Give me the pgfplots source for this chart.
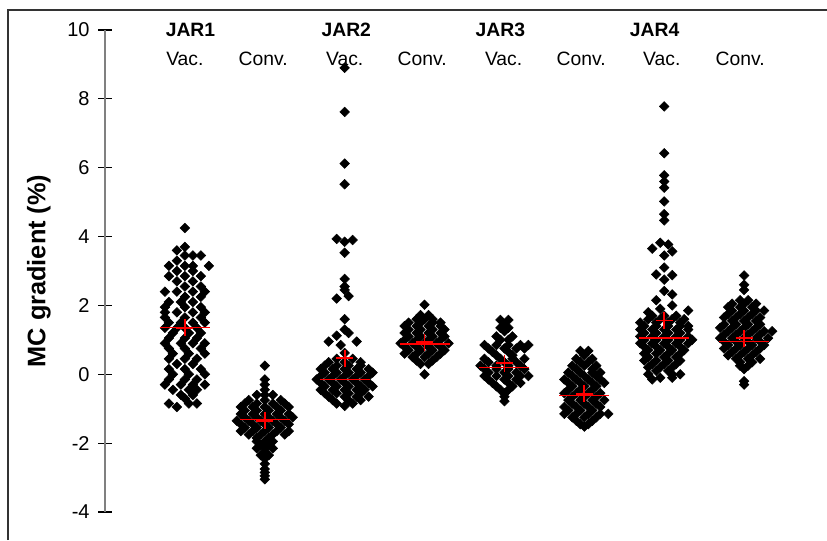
\documentclass[border=0pt]{standalone}
\usepackage{fontspec}
\setmainfont{Liberation Sans}
\usepackage{pgfplots}
\pgfplotsset{compat=1.18}
\begin{document}
\begin{tikzpicture}
\useasboundingbox (0,0) rectangle (620.25pt,405pt);
\draw[line width=1pt, color=black!80] (6pt,0) -- (6pt,397.5pt) -- (620.25pt,397.5pt);
\begin{axis}[
  at={(78.75pt,21pt)}, anchor=south west,
  scale only axis, width=539.25pt, height=361.5pt,
  xmin=0, xmax=9, ymin=-4, ymax=10,
  axis x line=none, axis y line*=left,
  y axis line style={draw=black!50, line width=1.2pt},
  ytick={-4,-2,...,10},
  tick align=center, major tick length=10pt,
  y tick style={black, line width=0.8pt},
  yticklabel style={font=\fontsize{15}{15}\selectfont, xshift=-3pt},
  /pgf/number format/assume math mode=true,
  ylabel={\textbf{MC gradient (\%)}},
  ylabel style={at={(axis description cs:-0.092,0.5)}, anchor=center, font=\fontsize{19}{19}\selectfont},
  clip=false,
]
\addplot[only marks, mark=square*, mark size=2.55pt, mark options={rotate=45, black, fill=black}] coordinates {
(1,4.25) (1,3.7) (0.9,3.6) (1,3.45) (1.1,3.45) (1.2,3.45) (0.9,3.3)
(0.8,3.15) (1,3.15) (1.1,3.15) (1.3,3.15) (0.9,3.0) (1.1,3.0)
(0.8,2.85) (1,2.85) (1.2,2.85) (0.9,2.7) (1.1,2.7) (1,2.55) (1.2,2.55)
(0.75,2.4) (0.9,2.4) (1.1,2.4) (1.25,2.4) (1,2.25) (1.2,2.25)
(0.8,2.1) (0.95,2.1) (1.1,2.1) (0.75,1.95) (1,1.95) (1.2,1.95)
(0.75,1.8) (0.9,1.8) (1.1,1.8) (1.25,1.8) (0.75,1.65) (1,1.65) (1.2,1.65)
(0.8,1.5) (0.95,1.5) (1.1,1.5) (1.25,1.5) (0.75,1.35) (0.9,1.35) (1,1.35) (1.15,1.35)
(0.85,1.2) (1.05,1.2) (1.2,1.2) (0.8,1.05) (1,1.05) (1.15,1.05)
(0.75,0.9) (0.95,0.9) (1.1,0.9) (1.25,0.9) (0.8,0.75) (1,0.75) (1.2,0.75)
(0.85,0.6) (1.05,0.6) (1.25,0.6) (0.8,0.45) (1,0.45) (1.15,0.45)
(0.9,0.3) (1.1,0.3) (0.8,0.15) (1,0.15) (1.2,0.15) (0.85,0) (1.05,0) (1.25,0)
(0.8,-0.15) (1,-0.15) (1.15,-0.15) (0.75,-0.3) (0.95,-0.3) (1.1,-0.3) (1.25,-0.3)
(0.85,-0.45) (1.05,-0.45) (1.15,-0.45) (0.95,-0.6) (1.1,-0.6) (1,-0.7)
(0.8,-0.85) (1.05,-0.85) (1.15,-0.85) (0.9,-0.95)
};
\addplot[only marks, mark=square*, mark size=2.55pt, mark options={rotate=45, black, fill=black}] coordinates {
(2,0.25) (2,-0.15) (2,-0.3) (2,-0.45) (1.9,-0.6) (2,-0.6) (2.1,-0.6)
(1.8,-0.75) (2,-0.75) (2.2,-0.75) (1.75,-0.85) (1.9,-0.85) (2.1,-0.85) (2.25,-0.85)
(1.7,-0.95) (1.85,-0.95) (2,-0.95) (2.15,-0.95) (2.3,-0.95)
(1.75,-1.05) (1.9,-1.05) (2.05,-1.05) (2.2,-1.05)
(1.7,-1.15) (1.85,-1.15) (2,-1.15) (2.15,-1.15) (2.3,-1.15)
(1.75,-1.25) (1.9,-1.25) (2.05,-1.25) (2.2,-1.25) (2.35,-1.25)
(1.65,-1.35) (1.8,-1.35) (1.95,-1.35) (2.1,-1.35) (2.25,-1.35)
(1.7,-1.45) (1.85,-1.45) (2,-1.45) (2.15,-1.45) (2.3,-1.45)
(1.75,-1.55) (1.9,-1.55) (2.05,-1.55) (2.2,-1.55)
(1.7,-1.65) (1.85,-1.65) (2,-1.65) (2.15,-1.65) (2.3,-1.65)
(1.8,-1.75) (1.95,-1.75) (2.1,-1.75) (2.25,-1.75) (1.9,-1.85) (2.05,-1.85)
(1.9,-1.95) (2,-1.95) (2.1,-1.95) (1.95,-2.05) (2.05,-2.05)
(1.9,-2.15) (2,-2.15) (2.1,-2.15) (2,-2.25) (1.95,-2.35) (2.05,-2.35) (2,-2.45)
(2,-2.6) (2,-2.75) (2,-2.85) (2,-2.95) (2,-3.05)
};
\addplot[only marks, mark=square*, mark size=2.55pt, mark options={rotate=45, black, fill=black}] coordinates {
(3,8.9) (3,7.62) (3,6.12) (3,5.52) (2.9,3.93) (3,3.85) (3.1,3.9) (3,3.53) (3,2.77)
(3,2.55) (3,2.45) (2.9,2.2) (3.05,2.27) (3,1.6) (3,1.3) (2.9,1.12) (3.05,1.2)
(2.8,0.95) (2.95,0.85) (3.15,0.95) (3,0.62)
(2.9,0.45) (3.1,0.45) (2.8,0.35) (3,0.35) (3.2,0.35)
(2.75,0.25) (2.9,0.25) (3.05,0.25) (3.2,0.25)
(2.7,0.15) (2.85,0.15) (3,0.15) (3.15,0.15) (3.3,0.15)
(2.75,0.05) (2.9,0.05) (3.05,0.05) (3.2,0.05) (3.35,0.05)
(2.7,-0.05) (2.85,-0.05) (3,-0.05) (3.15,-0.05) (3.3,-0.05)
(2.65,-0.15) (2.8,-0.15) (2.95,-0.15) (3.1,-0.15) (3.25,-0.15)
(2.7,-0.25) (2.85,-0.25) (3,-0.25) (3.15,-0.25) (3.3,-0.25)
(2.75,-0.35) (2.9,-0.35) (3.05,-0.35) (3.2,-0.35) (3.35,-0.35)
(2.7,-0.45) (2.85,-0.45) (3,-0.45) (3.15,-0.45) (3.25,-0.45)
(2.75,-0.55) (2.9,-0.55) (3.05,-0.55) (3.2,-0.55)
(2.8,-0.65) (3,-0.65) (3.15,-0.65) (3.3,-0.65)
(2.85,-0.75) (3.05,-0.75) (3.2,-0.75) (2.9,-0.85) (3.1,-0.85) (3,-0.92)
};
\addplot[only marks, mark=square*, mark size=2.55pt, mark options={rotate=45, black, fill=black}] coordinates {
(4,2.02) (3.95,1.72) (4.05,1.72) (3.9,1.6) (4,1.6) (4.1,1.6)
(3.8,1.5) (3.95,1.5) (4.1,1.5) (4.2,1.5) (3.75,1.4) (3.9,1.4) (4.05,1.4) (4.2,1.4)
(3.8,1.3) (3.95,1.3) (4.1,1.3) (4.25,1.3) (3.75,1.2) (3.9,1.2) (4.05,1.2) (4.2,1.2)
(3.8,1.1) (3.95,1.1) (4.1,1.1) (4.25,1.1) (3.75,1.0) (3.9,1.0) (4.05,1.0) (4.2,1.0)
(3.7,0.9) (3.85,0.9) (4,0.9) (4.15,0.9) (4.3,0.9)
(3.75,0.8) (3.9,0.8) (4.05,0.8) (4.2,0.8) (3.8,0.7) (3.95,0.7) (4.1,0.7) (4.25,0.7)
(3.75,0.6) (3.9,0.6) (4.05,0.6) (4.2,0.6) (3.85,0.5) (4,0.5) (4.15,0.5)
(3.9,0.4) (4.1,0.4) (3.95,0.3) (4.05,0.3) (4,0)
};
\addplot[only marks, mark=square*, mark size=2.55pt, mark options={rotate=45, black, fill=black}] coordinates {
(4.95,1.58) (5.05,1.58) (5,1.45) (4.95,1.35) (5.05,1.35) (5,1.25) (4.9,1.1) (5.1,1.1)
(4.95,1.0) (5.05,1.0) (4.75,0.85) (4.9,0.85) (5.05,0.85) (5.2,0.85) (5.3,0.85)
(4.8,0.75) (5,0.75) (5.15,0.75) (5.25,0.75) (4.85,0.65) (5.05,0.65) (4.9,0.55) (5.1,0.55)
(4.75,0.45) (4.95,0.45) (5.1,0.45) (5.25,0.45) (4.8,0.35) (5,0.35) (5.15,0.35)
(4.7,0.25) (4.9,0.25) (5.05,0.25) (5.2,0.25) (4.75,0.15) (4.9,0.15) (5.05,0.15) (5.25,0.15)
(4.8,0.05) (5,0.05) (5.15,0.05) (4.75,-0.05) (4.9,-0.05) (5.05,-0.05) (5.2,-0.05) (5.3,-0.05)
(4.8,-0.15) (5,-0.15) (5.15,-0.15) (4.85,-0.25) (5.05,-0.25) (5.2,-0.25)
(4.9,-0.35) (5.1,-0.35) (4.95,-0.45) (5.05,-0.45) (5,-0.55) (5,-0.65) (5,-0.78)
};
\addplot[only marks, mark=square*, mark size=2.55pt, mark options={rotate=45, black, fill=black}] coordinates {
(5.95,0.68) (6.05,0.68) (6,0.55) (5.9,0.45) (6.1,0.45) (5.95,0.35) (6.05,0.35)
(5.85,0.25) (6,0.25) (6.15,0.25) (5.9,0.15) (6.1,0.15)
(5.8,0.05) (5.95,0.05) (6.1,0.05) (6.2,0.05) (5.85,-0.05) (6,-0.05) (6.15,-0.05)
(5.75,-0.15) (5.9,-0.15) (6.05,-0.15) (6.2,-0.15) (5.8,-0.25) (5.95,-0.25) (6.1,-0.25) (6.25,-0.25)
(5.85,-0.35) (6,-0.35) (6.15,-0.35) (5.8,-0.45) (5.95,-0.45) (6.1,-0.45)
(5.75,-0.55) (5.9,-0.55) (6.05,-0.55) (6.2,-0.55) (5.85,-0.65) (6,-0.65) (6.15,-0.65)
(5.8,-0.75) (5.95,-0.75) (6.1,-0.75) (6.25,-0.75) (5.85,-0.85) (6,-0.85) (6.15,-0.85)
(5.75,-0.95) (5.9,-0.95) (6.05,-0.95) (6.2,-0.95) (5.8,-1.05) (5.95,-1.05) (6.1,-1.05)
(5.75,-1.15) (5.9,-1.15) (6.05,-1.15) (6.2,-1.15) (6.3,-1.15)
(5.85,-1.25) (6,-1.25) (6.15,-1.25) (5.9,-1.35) (6.1,-1.35) (5.95,-1.45) (6.05,-1.45) (6,-1.52)
};
\addplot[only marks, mark=square*, mark size=2.55pt, mark options={rotate=45, black, fill=black}] coordinates {
(7,7.78) (7,6.42) (7,5.78) (7,5.6) (7,5.42) (7,5.02) (7,4.65) (7,4.47)
(6.95,3.82) (7.05,3.77) (6.85,3.65) (7.1,3.57) (7,3.45) (7,3.1) (6.9,2.9) (7.1,2.88)
(7,2.75) (7,2.42) (7.1,2.32) (6.9,2.15) (7.1,2.0) (7.3,1.85) (6.8,1.8) (6.95,1.9)
(6.85,1.7) (7,1.7) (7.15,1.7) (6.8,1.6) (6.95,1.6) (7.1,1.6) (7.25,1.6)
(6.7,1.5) (6.9,1.5) (7.05,1.5) (7.2,1.5) (6.75,1.4) (6.9,1.4) (7.05,1.4) (7.2,1.4) (7.3,1.4)
(6.7,1.3) (6.85,1.3) (7,1.3) (7.15,1.3) (7.3,1.3) (6.75,1.2) (6.9,1.2) (7.05,1.2) (7.2,1.2)
(6.7,1.1) (6.85,1.1) (7,1.1) (7.15,1.1) (7.3,1.1)
(6.75,1.0) (6.9,1.0) (7.05,1.0) (7.2,1.0) (7.35,1.0)
(6.7,0.9) (6.85,0.9) (7,0.9) (7.15,0.9) (7.3,0.9) (6.75,0.8) (6.9,0.8) (7.05,0.8) (7.2,0.8)
(6.8,0.7) (6.95,0.7) (7.1,0.7) (7.25,0.7) (6.75,0.6) (6.9,0.6) (7.05,0.6) (7.2,0.6)
(6.8,0.5) (7,0.5) (7.15,0.5) (6.75,0.4) (6.9,0.4) (7.05,0.4) (7.2,0.4)
(6.85,0.3) (7,0.3) (7.15,0.3) (6.8,0.2) (6.95,0.2) (7.1,0.2) (6.9,0.1) (7.05,0.1)
(6.8,0) (7.1,0) (7.2,0) (6.95,-0.1) (7.1,-0.1) (6.85,-0.15)
};
\addplot[only marks, mark=square*, mark size=2.55pt, mark options={rotate=45, black, fill=black}] coordinates {
(8,2.87) (8,2.6) (8,2.45) (7.95,2.15) (8.05,2.15) (7.85,2.05) (8,2.05) (8.15,2.05)
(7.8,1.95) (7.95,1.95) (8.1,1.95) (7.85,1.85) (8,1.85) (8.15,1.85) (8.25,1.85)
(7.8,1.75) (7.95,1.75) (8.1,1.75) (7.75,1.65) (7.9,1.65) (8.05,1.65) (8.2,1.65)
(7.85,1.55) (8,1.55) (8.15,1.55) (7.75,1.45) (7.9,1.45) (8.05,1.45) (8.2,1.45)
(7.7,1.35) (7.85,1.35) (8,1.35) (8.15,1.35)
(7.8,1.25) (7.95,1.25) (8.1,1.25) (8.25,1.25) (8.35,1.25)
(7.75,1.15) (7.9,1.15) (8.05,1.15) (8.2,1.15) (7.7,1.05) (7.85,1.05) (8,1.05) (8.15,1.05) (8.3,1.05)
(7.75,0.95) (7.9,0.95) (8.05,0.95) (8.2,0.95) (7.8,0.85) (7.95,0.85) (8.1,0.85) (8.25,0.85)
(7.75,0.75) (7.9,0.75) (8.05,0.75) (8.2,0.75) (7.85,0.65) (8,0.65) (8.15,0.65)
(7.8,0.55) (7.95,0.55) (8.1,0.55) (7.9,0.45) (8.05,0.45) (8.2,0.45)
(7.95,0.35) (8.1,0.35) (7.95,0.25) (8.05,0.25) (8,0.15) (8,-0.2) (8,-0.3)
};
% median lines
\addplot[only marks, mark=-, mark size=18.75pt, mark options={red, line width=1pt}] coordinates {
(1,1.35) (2,-1.31) (3,-0.15) (4,0.88) (5,0.19) (6,-0.62) (7,1.05) (8,0.95)
};
% mean crosses
\addplot[only marks, mark=+, mark size=6.4pt, mark options={red, line width=1.3pt}] coordinates {
(1,1.35) (2,-1.35) (3,0.47) (4,0.93) (5,0.32) (6,-0.57) (7,1.56) (8,1.05)
};
\node[font=\fontsize{14.5}{14.5}\selectfont\bfseries] at (axis cs:1.07,10) {JAR1};
\node[font=\fontsize{14.5}{14.5}\selectfont\bfseries] at (axis cs:3.02,10) {JAR2};
\node[font=\fontsize{14.5}{14.5}\selectfont\bfseries] at (axis cs:4.95,10) {JAR3};
\node[font=\fontsize{14.5}{14.5}\selectfont\bfseries] at (axis cs:6.88,10) {JAR4};
\node[font=\fontsize{14.5}{14.5}\selectfont] at (axis cs:1,9.16) {Vac.};
\node[font=\fontsize{14.5}{14.5}\selectfont] at (axis cs:1.98,9.16) {Conv.};
\node[font=\fontsize{14.5}{14.5}\selectfont] at (axis cs:3,9.16) {Vac.};
\node[font=\fontsize{14.5}{14.5}\selectfont] at (axis cs:3.97,9.16) {Conv.};
\node[font=\fontsize{14.5}{14.5}\selectfont] at (axis cs:4.99,9.16) {Vac.};
\node[font=\fontsize{14.5}{14.5}\selectfont] at (axis cs:5.96,9.16) {Conv.};
\node[font=\fontsize{14.5}{14.5}\selectfont] at (axis cs:6.97,9.16) {Vac.};
\node[font=\fontsize{14.5}{14.5}\selectfont] at (axis cs:7.95,9.16) {Conv.};
\end{axis}
\end{tikzpicture}
\end{document}
